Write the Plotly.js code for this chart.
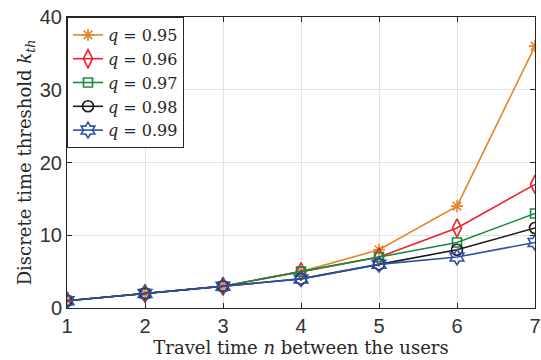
<!DOCTYPE html>
<html><head><meta charset="utf-8">
<script src="https://cdn.plot.ly/plotly-3.0.1.min.js"></script>
<style>body{margin:0;background:#fff}#c{width:541px;height:360px}</style>
</head><body><div id="c"></div>
<script>
var n = [1,2,3,4,5,6,7];
var q95 = [1,2,3,5,8,14,36];
var q96 = [1,2,3,5,7,11,17];
var q97 = [1,2,3,5,7,9,13];
var q98 = [1,2,3,4,6,8,11];
var q99 = [1,2,3,4,6,7,9];
var labels = ['<i>q</i> = 0.95','<i>q</i> = 0.96','<i>q</i> = 0.97','<i>q</i> = 0.98','<i>q</i> = 0.99'];
var series = [q95,q96,q97,q98,q99];
var colors = ['#e5852b','#f0202a','#1c8a3e','#1a1a1a','#2d50a8'];
var symbols = ['asterisk-open','diamond-tall-open','square-open','circle-open','hexagram-open'];
var sizes = [10,13,9,11,12];
var traces = series.map(function(s,i){
  return {x:n, y:s, name:labels[i], type:'scatter', mode:'lines+markers',
    line:{color:colors[i], width:1.6},
    marker:{symbol:symbols[i], size:sizes[i], color:colors[i], line:{color:colors[i], width:1.6}}};
});
var axisCommon = {showline:true, linecolor:'#262626', linewidth:1, mirror:'ticks', ticks:'inside', ticklen:5, tickcolor:'#262626',
  showgrid:true, gridcolor:'#e3e3e3', gridwidth:1, zeroline:false,
  tickfont:{family:'Liberation Sans', size:20, color:'#333333'}};
var titleFont = {family:'DejaVu Serif', size:18, color:'#262626'};
var layout = {
  width:541, height:360, margin:{l:67, r:6, t:17, b:52},
  paper_bgcolor:'#fff', plot_bgcolor:'#fff', showlegend:true,
  xaxis:Object.assign({}, axisCommon, {range:[1,7], dtick:1, tick0:1,
    title:{text:'Travel time <i>n</i> between the users', font:titleFont, standoff:3}}),
  yaxis:Object.assign({}, axisCommon, {range:[0,40], dtick:10, tick0:0,
    title:{text:'Discrete time threshold <i>k<sub>th</sub></i>', font:titleFont, standoff:3}}),
  legend:{x:0, y:1, xanchor:'left', yanchor:'top', bgcolor:'#fff', bordercolor:'#262626', borderwidth:1,
    font:{family:'DejaVu Serif', size:16, color:'#262626'}, itemwidth:30, tracegroupgap:0}
};
Plotly.newPlot('c', traces, layout, {staticPlot:true, displayModeBar:false});
</script></body></html>
